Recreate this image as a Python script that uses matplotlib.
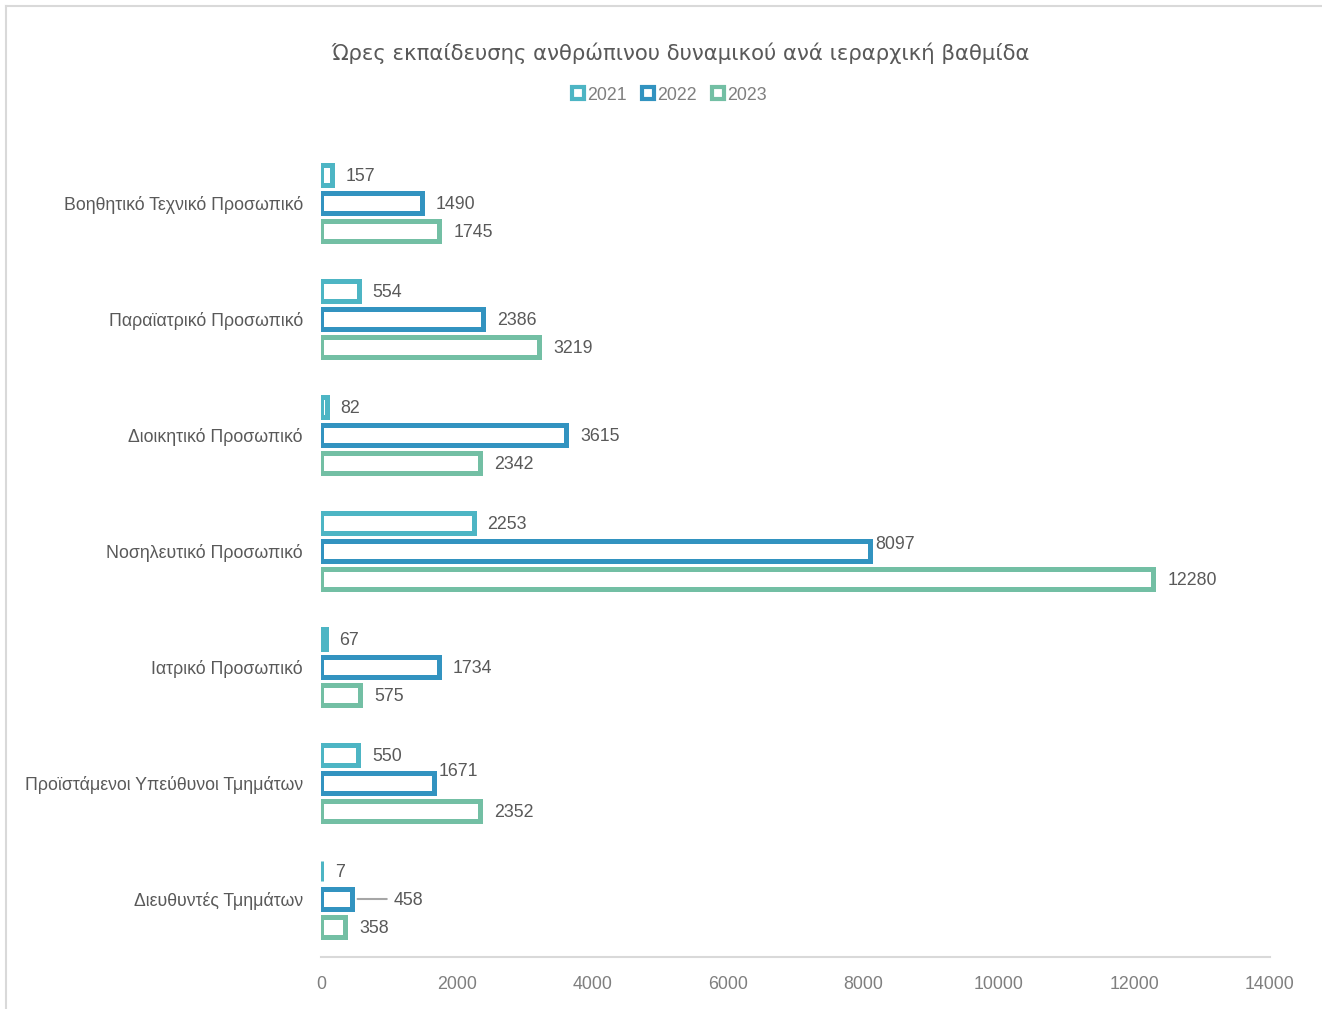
import matplotlib.pyplot as plt
from matplotlib.lines import Line2D
from matplotlib.font_manager import fontManager
import numpy as np

# Data (categories listed top to bottom)
categories = ['Βοηθητικό Τεχνικό Προσωπικό', 'Παραϊατρικό Προσωπικό', 'Διοικητικό Προσωπικό',
              'Νοσηλευτικό Προσωπικό', 'Ιατρικό Προσωπικό', 'Προϊστάμενοι Υπεύθυνοι Τμημάτων',
              'Διευθυντές Τμημάτων']
years = ['2021', '2022', '2023']
hours_2021 = [157, 554, 82, 2253, 67, 550, 7]
hours_2022 = [1490, 2386, 3615, 8097, 1734, 1671, 458]
hours_2023 = [1745, 3219, 2342, 12280, 575, 2352, 358]
x_ticks = [0, 2000, 4000, 6000, 8000, 10000, 12000, 14000]

colors = ['#4db5c4', '#3293c0', '#73bfa4']
text_grey = '#595959'
tick_grey = '#7f7f7f'

names = {f.name for f in fontManager.ttflist}
narrow = 'Liberation Sans Narrow' in names
base = 'Liberation Sans Narrow' if narrow else 'Liberation Sans'
fs = 15 if narrow else 12.8
plt.rcParams['font.family'] = [base, 'DejaVu Sans']

fig = plt.figure(figsize=(13.22, 10.09), dpi=100)
ax = fig.add_axes([321 / 1322, 1 - 957 / 1009, 949 / 1322, 812 / 1009])

# outer chart frame (only top and left visible)
fig.add_artist(Line2D([6 / 1322, 1.01], [1 - 6 / 1009] * 2, transform=fig.transFigure,
                      color='#d9d9d9', lw=1.5))
fig.add_artist(Line2D([6 / 1322] * 2, [-0.01, 1 - 6 / 1009], transform=fig.transFigure,
                      color='#d9d9d9', lw=1.5))

y = np.arange(len(categories))
step = 0.241
bar_h = 0.17
series = [hours_2021, hours_2022, hours_2023]
offsets = [-step, 0, step]

# label offsets in points for a few labels that Excel moved
special = {(3, 1): (4, 5), (5, 1): (3, 8), (6, 1): (30, -1)}

for s, (vals, off, col) in enumerate(zip(series, offsets, colors)):
    ax.barh(y + off, vals, height=bar_h, facecolor='white', edgecolor=col, linewidth=3.6)
    for i, v in enumerate(vals):
        dx, dy = special.get((i, s), (10, -1.2))
        ax.annotate(str(v), (v, y[i] + off), xytext=(dx, dy), textcoords='offset points',
                    ha='left', va='center', fontsize=fs, color=text_grey)

# leader line for the 458 label
ax.annotate('', (hours_2022[6], y[6]), xytext=(25, 0), textcoords='offset points',
            arrowprops=dict(arrowstyle='-', color='#a6a6a6', lw=1.5, shrinkA=0, shrinkB=4))

ax.set_ylim(len(categories) - 0.5, -0.5)
ax.set_xlim(0, 14000)
ax.set_yticks(y)
ax.set_yticklabels(categories, fontsize=fs, color=text_grey)
ax.set_xticks(x_ticks)
ax.set_xticklabels([str(t) for t in x_ticks], fontsize=fs, color=tick_grey)
ax.tick_params(axis='both', length=0)
ax.tick_params(axis='y', pad=13)
ax.tick_params(axis='x', pad=14)
for side in ['top', 'right', 'left']:
    ax.spines[side].set_visible(False)
ax.spines['bottom'].set_color('#d9d9d9')
ax.spines['bottom'].set_linewidth(1.5)

fig.text(681 / 1322, 1 - 53 / 1009, 'Ώρες εκπαίδευσης ανθρώπινου δυναμικού ανά ιεραρχική βαθμίδα',
         ha='center', va='center', fontsize=15.3, color=text_grey, family=['DejaVu Sans'])

handles = [Line2D([], [], marker='s', linestyle='none', markersize=8, markerfacecolor='white',
                  markeredgecolor=c, markeredgewidth=3) for c in colors]
fig.legend(handles, years, loc='center', bbox_to_anchor=(668 / 1322, 1 - 95 / 1009), ncol=3,
           frameon=False, fontsize=fs, labelcolor=tick_grey, handletextpad=0.0,
           columnspacing=0.7, handlelength=1.0)

fig.savefig('out.png', dpi=100)
